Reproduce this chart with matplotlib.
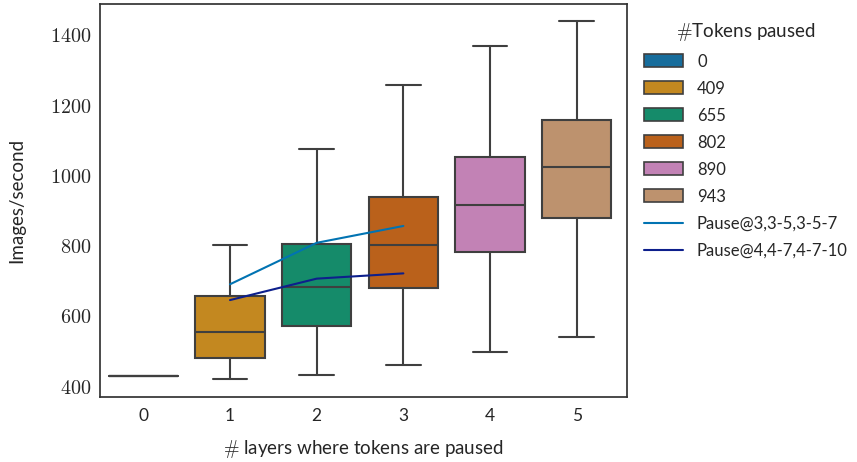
import matplotlib
matplotlib.use("Agg")
import matplotlib.pyplot as plt
from matplotlib.patches import Patch
from matplotlib.lines import Line2D
import seaborn as sns

# ---- data ----
layers = [0, 1, 2, 3, 4, 5]
tokens_paused = ["0", "409", "655", "802", "890", "943"]
whislo = [430, 420, 432, 460, 497, 539]
q1 = [430, 480, 571, 679, 783, 880]
med = [430, 554, 682, 802, 916, 1023]
q3 = [430, 656, 805, 938, 1053, 1158]
whishi = [430, 803, 1075, 1257, 1369, 1439]

line_x = [1, 2, 3]
pause_a = [690, 808, 856]   # Pause@3,3-5,3-5-7
pause_b = [645, 706, 721]   # Pause@4,4-7,4-7-10
line_labels = ["Pause@3,3-5,3-5-7", "Pause@4,4-7,4-7-10"]
yticks = [400, 600, 800, 1000, 1200, 1400]

sns.set_style("white")
plt.rcParams["font.family"] = ["Lato", "DejaVu Sans"]
plt.rcParams["mathtext.fontset"] = "cm"

pal = sns.color_palette("colorblind", 6)
box_colors = [sns.desaturate(c, 0.75) for c in pal]
edge = "#3f3f3f"

fig = plt.figure(figsize=(8.57, 4.62), dpi=100)
ax = fig.add_axes([100/857, 1-397/462, (627-100)/857, (397-4)/462])

stats = []
for i in range(len(layers)):
    stats.append(dict(whislo=whislo[i], q1=q1[i], med=med[i], q3=q3[i],
                      whishi=whishi[i], fliers=[]))
bp = ax.bxp(stats, positions=layers, widths=0.8, patch_artist=True,
            showfliers=False,
            boxprops=dict(edgecolor=edge, linewidth=1.5),
            whiskerprops=dict(color=edge, linewidth=1.5),
            capprops=dict(color=edge, linewidth=1.5),
            medianprops=dict(color=edge, linewidth=1.5))
for patch, c in zip(bp["boxes"], box_colors):
    patch.set_facecolor(c)
for cap in bp["caps"]:
    x0, x1 = cap.get_xdata()
    cx = (x0 + x1) / 2
    cap.set_xdata([cx - 0.2, cx + 0.2])
# degenerate box 0: draw wide line
bp["caps"][0].set_xdata([-0.4, 0.4]); bp["caps"][1].set_xdata([-0.4, 0.4])

c_a = pal[0]
c_b = "#0d1f8c"
ax.plot(line_x, pause_a, color=c_a, lw=1.5, zorder=5)
ax.plot(line_x, pause_b, color=c_b, lw=1.5, zorder=5)

ax.set_xlim(-0.5, 5.58)
ax.set_ylim(369, 1488)
ax.set_xticks(layers)
ax.set_xticklabels([str(l) for l in layers], fontsize=12.5)
ax.set_yticks(yticks)
ax.set_yticklabels([f"${v}$" for v in yticks], fontsize=14.5)
ax.tick_params(axis="x", length=0, pad=8)
ax.tick_params(axis="y", length=0, pad=6)
for s in ax.spines.values():
    s.set_color("#333333")
    s.set_linewidth(1.25)

ax.set_xlabel(r"$\#$ layers where tokens are paused", fontsize=13.5, labelpad=10)
ax.set_ylabel("Images/second", fontsize=13.5, labelpad=18)

handles = [Patch(facecolor=c, edgecolor=edge, linewidth=1.2) for c in box_colors]
handles += [Line2D([], [], color=c_a, lw=1.5), Line2D([], [], color=c_b, lw=1.5)]
labels = tokens_paused + line_labels
leg = ax.legend(handles, labels, title=r"$\#$Tokens paused", loc="upper left",
                bbox_to_anchor=(1.0, 1.0), frameon=False, fontsize=12,
                title_fontsize=13.5, handlelength=2.35, handleheight=0.8,
                labelspacing=0.66, borderaxespad=0.6, handletextpad=0.85)

fig.savefig("out.png", dpi=100)
